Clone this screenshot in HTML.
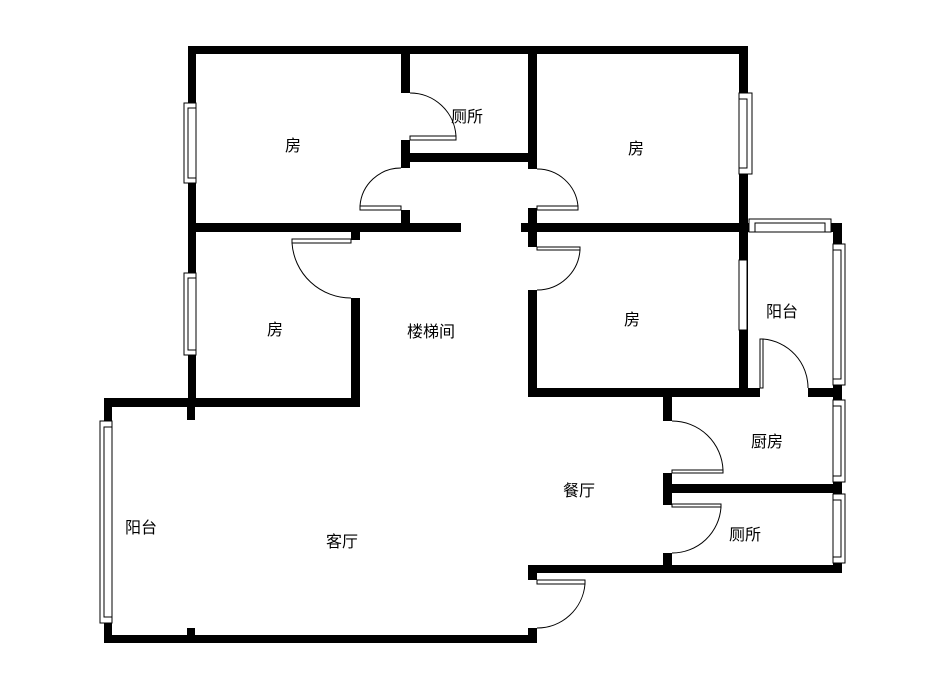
<!DOCTYPE html>
<html><head><meta charset="utf-8"><style>
html,body{margin:0;padding:0;background:#fff;width:936px;height:690px;overflow:hidden}
svg text{font-family:"Liberation Sans","Noto Sans CJK SC",sans-serif;font-size:16px;fill:#000}
</style></head><body>
<svg width="936" height="690" viewBox="0 0 936 690" xmlns="http://www.w3.org/2000/svg">
<g fill="#000">
<!-- top -->
<rect x="188" y="46" width="560" height="8"/>
<rect x="188" y="46" width="8" height="186"/>
<rect x="401" y="46" width="9" height="47"/>
<rect x="401" y="140" width="9" height="28"/>
<rect x="410" y="153" width="127" height="9"/>
<rect x="528" y="46" width="9" height="123"/>
<rect x="401" y="210" width="9" height="22"/>
<rect x="528" y="208" width="9" height="39"/>
<rect x="739" y="46" width="9" height="351"/>
<!-- middle horizontal -->
<rect x="188" y="223" width="273" height="9"/>
<rect x="521" y="223" width="321" height="9"/>
<!-- left room 2 -->
<rect x="188" y="232" width="8" height="175"/>
<rect x="351" y="232" width="9" height="8"/>
<rect x="351" y="298" width="9" height="109"/>
<!-- right room 2 -->
<rect x="528" y="290" width="9" height="107"/>
<rect x="528" y="388" width="232" height="9"/>
<!-- balcony right -->
<rect x="833" y="223" width="9" height="350"/>
<rect x="808" y="388" width="34" height="9"/>
<!-- kitchen / toilet -->
<rect x="663" y="397" width="9" height="24"/>
<rect x="663" y="473" width="9" height="32"/>
<rect x="663" y="484" width="179" height="9"/>
<rect x="663" y="553" width="9" height="13"/>
<rect x="528" y="565" width="314" height="8"/>
<rect x="528" y="565" width="9" height="15"/>
<rect x="528" y="628" width="9" height="15"/>
<!-- living -->
<rect x="104" y="398" width="256" height="9"/>
<rect x="104" y="398" width="8" height="245"/>
<rect x="104" y="635" width="433" height="8"/>
<rect x="187" y="398" width="8" height="22"/>
<rect x="187" y="628" width="8" height="8"/>
</g>
<g fill="#fff" stroke="#000" stroke-width="1">
<!-- windows -->
<rect x="184" y="103" width="12" height="80"/>
<rect x="188" y="108" width="8" height="70"/>
<rect x="184" y="273" width="12" height="82"/>
<rect x="188" y="278" width="8" height="72"/>
<rect x="100" y="421" width="12" height="202"/>
<rect x="104" y="427" width="8" height="190"/>
<rect x="739" y="93" width="13" height="81"/>
<rect x="739" y="99" width="8" height="69"/>
<rect x="739" y="260" width="8" height="70"/>
<rect x="749" y="219" width="82" height="13"/>
<rect x="755" y="223" width="70" height="9"/>
<rect x="833" y="244" width="12" height="141"/>
<rect x="833" y="250" width="8" height="129"/>
<rect x="833" y="400" width="12" height="82"/>
<rect x="833" y="406" width="8" height="70"/>
<rect x="833" y="494" width="12" height="69"/>
<rect x="833" y="500" width="8" height="57"/>
<!-- door leaves -->
<rect x="410" y="136" width="46" height="4"/>
<rect x="360" y="206" width="41" height="4"/>
<rect x="537" y="206" width="41" height="4"/>
<rect x="292" y="239" width="59" height="4"/>
<rect x="537" y="247" width="43" height="3"/>
<rect x="760" y="339" width="3" height="49"/>
<rect x="672" y="470" width="51" height="3"/>
<rect x="672" y="504" width="49" height="3"/>
<rect x="537" y="580" width="48" height="4"/>
</g>
<g fill="none" stroke="#000" stroke-width="1">
<path d="M410 93 A46 46 0 0 1 456 136"/>
<path d="M401 168 A41 41 0 0 0 360 206"/>
<path d="M537 169 A41 41 0 0 1 578 206"/>
<path d="M351 298 A59 59 0 0 1 292 243"/>
<path d="M537 290 A43 43 0 0 0 580 250"/>
<path d="M763 339 A49 49 0 0 1 808 388"/>
<path d="M672 421 A51 51 0 0 1 723 470"/>
<path d="M672 553 A49 49 0 0 0 721 507"/>
<path d="M537 628 A48 48 0 0 0 585 584"/>
</g>
<g text-anchor="middle">
<text x="293" y="151">房</text>
<text x="467" y="122">厕所</text>
<text x="636" y="154">房</text>
<text x="275" y="335">房</text>
<text x="431" y="337">楼梯间</text>
<text x="632" y="325">房</text>
<text x="782" y="317">阳台</text>
<text x="767" y="447">厨房</text>
<text x="579" y="496">餐厅</text>
<text x="745" y="540">厕所</text>
<text x="141" y="533">阳台</text>
<text x="342" y="547">客厅</text>
</g>
</svg>
</body></html>
